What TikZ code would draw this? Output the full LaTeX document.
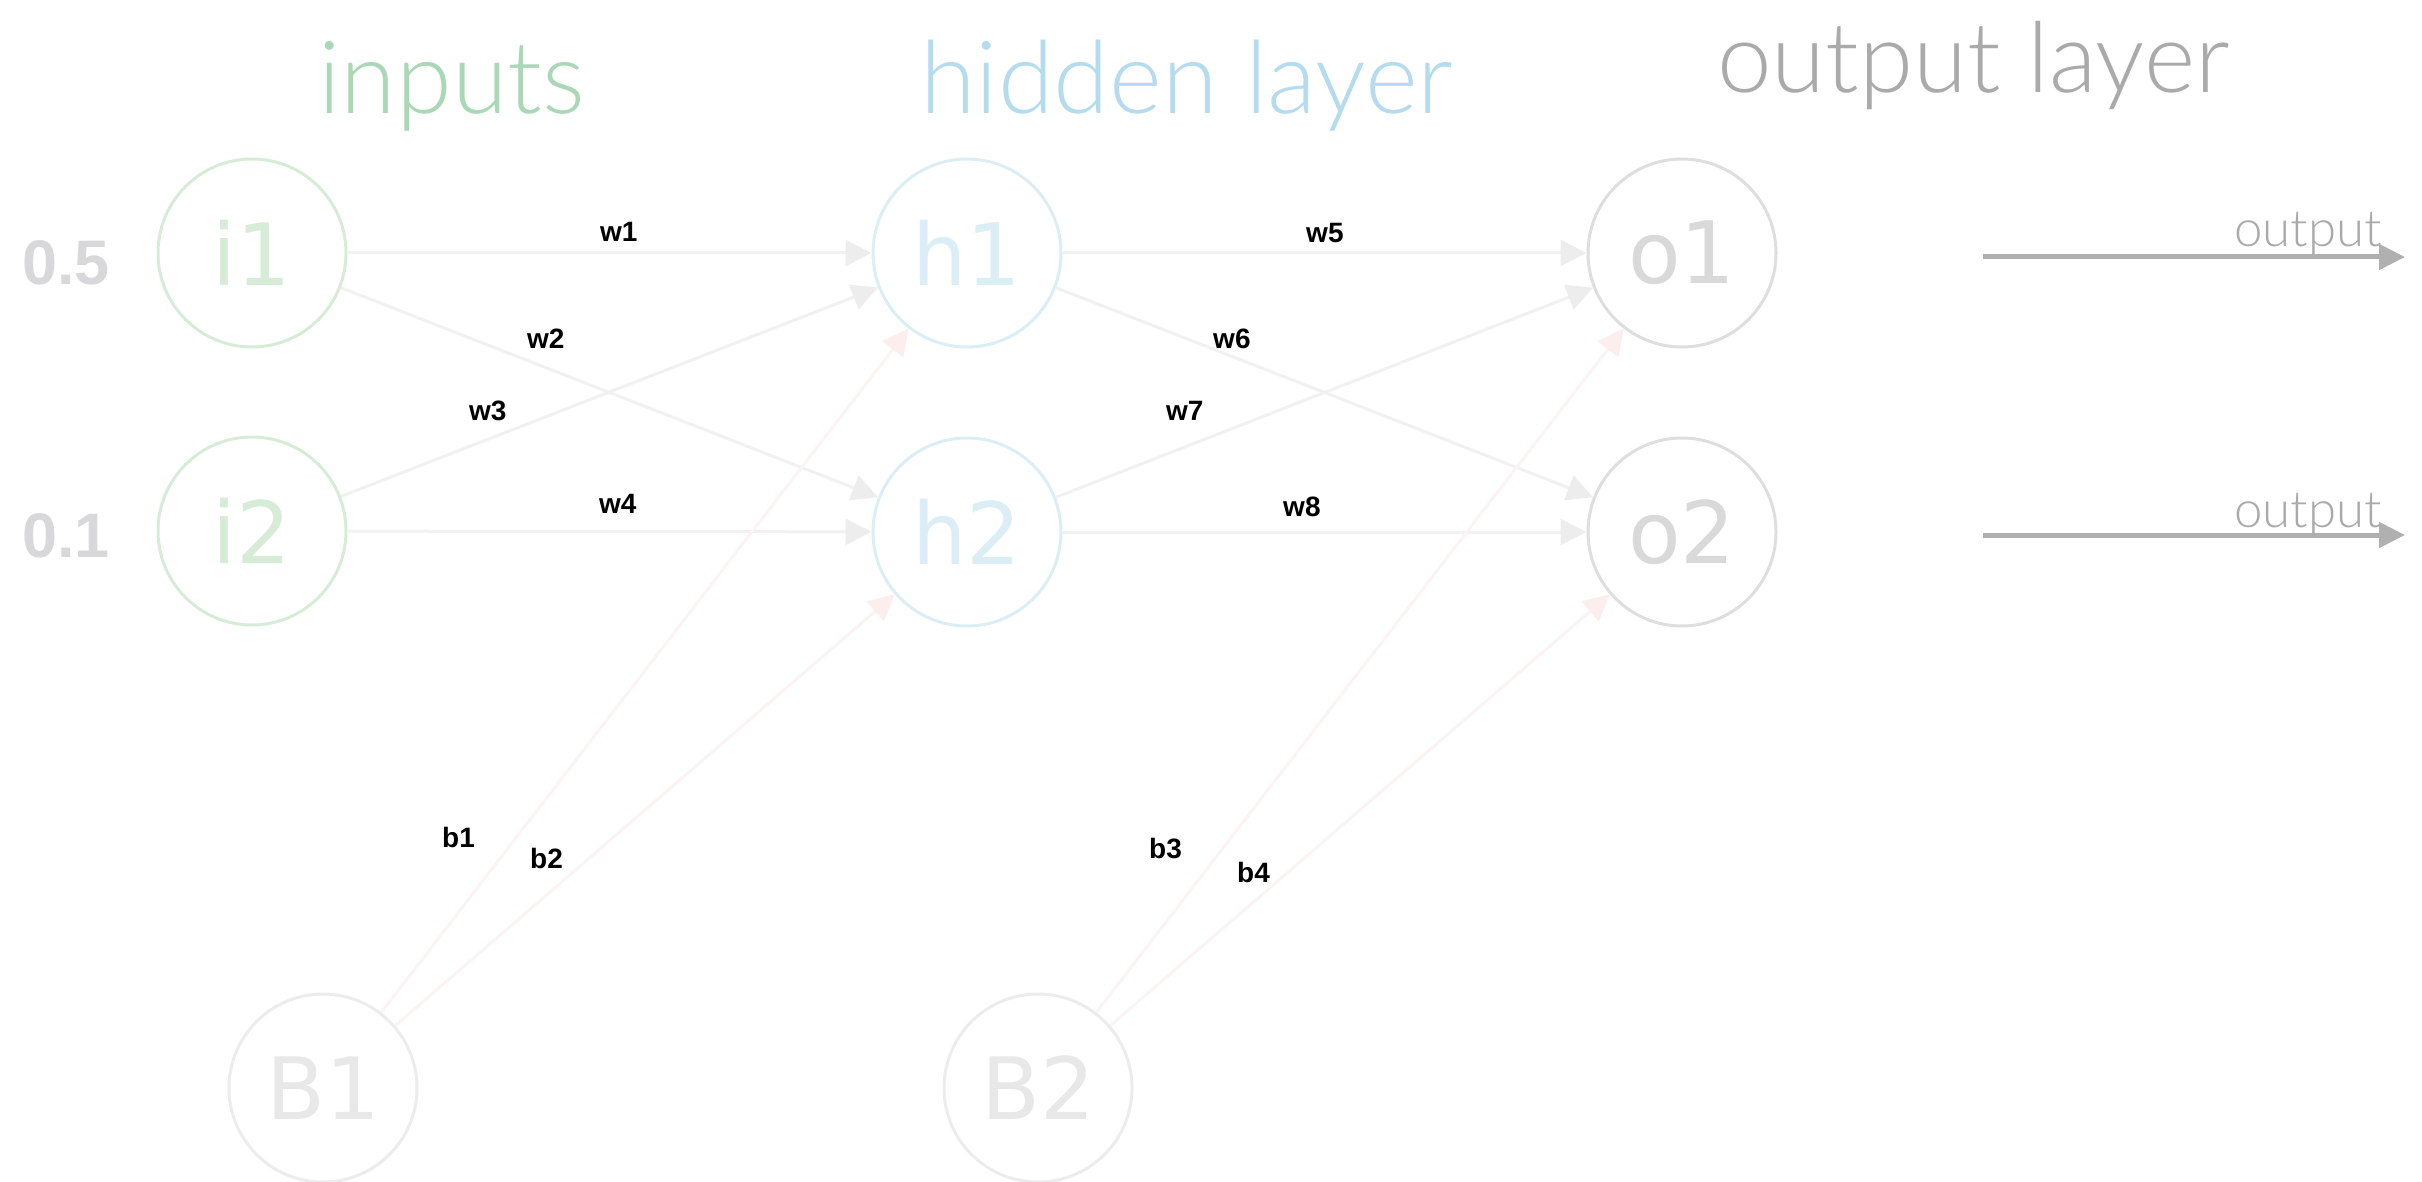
\documentclass[tikz,border=0pt]{standalone}
\usepackage{fontspec}
\setmainfont{Liberation Sans}
\newfontfamily\labelfont{DejaVu Sans}
\newfontfamily\thinfont{Lato Light}
\usetikzlibrary{arrows.meta}

\definecolor{inGreen}{HTML}{AAD8B6}
\definecolor{inStroke}{HTML}{D6ECD6}
\definecolor{hidBlue}{HTML}{B4DBEE}
\definecolor{hidStroke}{HTML}{DBEEF6}
\definecolor{outGray}{HTML}{AAAAAA}
\definecolor{outStroke}{HTML}{DEDEDE}
\definecolor{outText}{HTML}{D9D9D9}
\definecolor{biasStroke}{HTML}{ECECEC}
\definecolor{biasText}{HTML}{E8E8E8}
\definecolor{edgeGray}{HTML}{F1F1F1}
\definecolor{edgeHead}{HTML}{EDEDED}
\definecolor{biasEdge}{HTML}{FCF3F3}
\definecolor{biasHead}{HTML}{FDEEEE}
\definecolor{valGray}{HTML}{D8D8DB}
\definecolor{arrowGray}{HTML}{B0B0B0}

\begin{document}
\begin{tikzpicture}[x=1pt,y=-1pt,
  neuron/.style={circle, draw, line width=3pt, minimum size=188pt, inner sep=0pt,
    font=\labelfont\fontsize{86}{90}\selectfont},
  inneuron/.style={neuron, draw=inStroke, text=inStroke},
  hidneuron/.style={neuron, draw=hidStroke, text=hidStroke},
  outneuron/.style={neuron, draw=outStroke, text=outText},
  biasneuron/.style={neuron, draw=biasStroke, text=biasText},
  title/.style={anchor=base west, inner sep=0pt, font=\thinfont\fontsize{101}{112}\selectfont},
  weightlbl/.style={anchor=base west, inner sep=0pt, font=\bfseries\fontsize{28}{30}\selectfont, text=black},
  valuelbl/.style={anchor=base west, inner sep=0pt, font=\bfseries\fontsize{63}{66}\selectfont, text=valGray},
  outlbl/.style={anchor=base west, inner sep=0pt, font=\thinfont\fontsize{51}{54}\selectfont, text=outGray},
  edge/.style={draw=edgeGray, line width=3pt, -{Triangle[length=26pt,width=26pt,color=edgeHead]}},
  biasedge/.style={draw=biasEdge, line width=3pt, -{Triangle[length=26pt,width=26pt,color=biasHead]}},
  outarrow/.style={draw=arrowGray, line width=5pt, -{Triangle[length=26pt,width=25pt]}}
]
\useasboundingbox (0,0) rectangle (2422,1182);

% layer titles
\node[title, text=inGreen] (tin) at (318,114) {inputs};
\node[title, text=hidBlue] (thid) at (920,114) {hidden layer};
\node[title, text=outGray, font=\thinfont\fontsize{98}{110}\selectfont] (tout) at (1717,93) {output layer};

% neurons
\node[inneuron] (i1) at (252,253) {i1};
\node[inneuron] (i2) at (252,531) {i2};
\node[hidneuron] (h1) at (967,253) {h1};
\node[hidneuron] (h2) at (967,532) {h2};
\node[outneuron] (o1) at (1682,253) {o1};
\node[outneuron] (o2) at (1682,532) {o2};
\node[biasneuron] (B1) at (323,1088) {B1};
\node[biasneuron] (B2) at (1038,1088) {B2};

% input values
\node[valuelbl] (v1) at (22,285) {0.5};
\node[valuelbl] (v2) at (22,557) {0.1};

% weighted connections
\draw[edge] (i1) -- (h1);
\draw[edge] (i1) -- (h2);
\draw[edge] (i2) -- (h1);
\draw[edge] (i2) -- (h2);
\draw[edge] (h1) -- (o1);
\draw[edge] (h1) -- (o2);
\draw[edge] (h2) -- (o1);
\draw[edge] (h2) -- (o2);

% bias connections
\draw[biasedge] (B1) -- (h1);
\draw[biasedge] (B1) -- (h2);
\draw[biasedge] (B2) -- (o1);
\draw[biasedge] (B2) -- (o2);

% weight labels
\node[weightlbl] (lw1) at (600,242) {w1};
\node[weightlbl] (lw2) at (527,348) {w2};
\node[weightlbl] (lw3) at (469,420) {w3};
\node[weightlbl] (lw4) at (599,513) {w4};
\node[weightlbl] (lw5) at (1306,243) {w5};
\node[weightlbl] (lw6) at (1213,348) {w6};
\node[weightlbl] (lw7) at (1166,420) {w7};
\node[weightlbl] (lw8) at (1283,516) {w8};
\node[weightlbl] (lb1) at (442,847) {b1};
\node[weightlbl] (lb2) at (530,868) {b2};
\node[weightlbl] (lb3) at (1149,858) {b3};
\node[weightlbl] (lb4) at (1237,882) {b4};

% output arrows
\coordinate (oa1s) at (1983,257);
\coordinate (oa1e) at (2405,257);
\coordinate (oa2s) at (1983,535);
\coordinate (oa2e) at (2405,535);
\draw[outarrow] (oa1s) -- (oa1e);
\draw[outarrow] (oa2s) -- (oa2e);
\node[outlbl] (ol1) at (2234,247) {output};
\node[outlbl] (ol2) at (2234,527) {output};
\end{tikzpicture}
\end{document}
